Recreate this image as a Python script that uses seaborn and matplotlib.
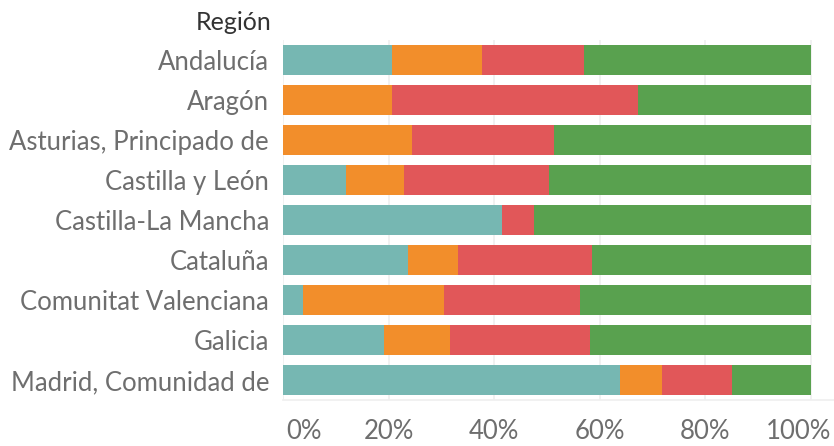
import numpy as np
import pandas as pd
import matplotlib
matplotlib.use("Agg")
import matplotlib.pyplot as plt
import seaborn as sns

# data (percent of each region)
regions = ["Andalucía", "Aragón", "Asturias, Principado de", "Castilla y León",
           "Castilla-La Mancha", "Cataluña", "Comunitat Valenciana", "Galicia",
           "Madrid, Comunidad de"]
seg_names = ["teal", "orange", "red", "green"]
teal = [20.6, 0.0, 0.0, 12.0, 41.5, 23.7, 3.7, 19.2, 63.9]
orange = [17.1, 20.6, 24.5, 11.0, 0.0, 9.5, 26.8, 12.4, 7.9]
red = [19.4, 46.7, 26.8, 27.3, 6.0, 25.3, 25.8, 26.6, 13.2]
green = [42.9, 32.7, 48.7, 49.7, 52.5, 41.5, 43.7, 41.8, 15.0]
colors = ["#76b7b2", "#f28e2b", "#e15759", "#59a14f"]
xticks = [0, 20, 40, 60, 80, 100]

sns.set_style("white")
plt.rcParams["font.family"] = ["Lato", "DejaVu Sans"]

df = pd.DataFrame({"region": regions, "teal": teal, "orange": orange,
                   "red": red, "green": green})
cum = df[seg_names].cumsum(axis=1)

fig = plt.figure(figsize=(8.34, 4.46), dpi=100)
ax = fig.add_axes([283 / 834, (446 - 400) / 446, (834 - 283) / 834, 360 / 446])

# draw cumulative layers back to front
for name, col in reversed(list(zip(seg_names, colors))):
    layer = pd.DataFrame({"region": regions, "value": cum[name]})
    sns.barplot(data=layer, y="region", x="value", order=regions, color=col,
                saturation=1, width=0.77, orient="h", linewidth=0, ax=ax)

ax.set_xlim(0, 100 * (834 - 283) / 528)
ax.set_ylim(8.5, -0.5)
ax.set_xticks(xticks)
ax.set_xticklabels([f"{t}%" for t in xticks])
ax.set_xlabel("")
ax.set_ylabel("")
for t in xticks:
    ax.axvline(t, color="#efefef", lw=1.2, zorder=0)
ax.set_axisbelow(True)

for s in ["top", "right", "left"]:
    ax.spines[s].set_visible(False)
ax.spines["bottom"].set_color("#efefef")
ax.spines["bottom"].set_linewidth(1.2)

ax.tick_params(axis="x", length=10, width=1.2, color="#efefef", pad=4,
               labelsize=18.5, labelcolor="#6e6e6e")
ax.tick_params(axis="y", length=0, pad=10, labelsize=18.5, labelcolor="#6e6e6e")

# keep the end labels inside the chart, as the reference does
xlabs = ax.get_xticklabels()
xlabs[0].set_horizontalalignment("left")
xlabs[-1].set_horizontalalignment("right")
off_first = matplotlib.transforms.ScaledTranslation(3 / 100, 0, fig.dpi_scale_trans)
off_last = matplotlib.transforms.ScaledTranslation(20 / 100, 0, fig.dpi_scale_trans)
xlabs[0].set_transform(xlabs[0].get_transform() + off_first)
xlabs[-1].set_transform(xlabs[-1].get_transform() + off_last)

fig.text(271 / 834, 1 - 22 / 446, "Región", ha="right", va="center",
         fontsize=18, color="#333333")

fig.savefig("out.png", dpi=100)
